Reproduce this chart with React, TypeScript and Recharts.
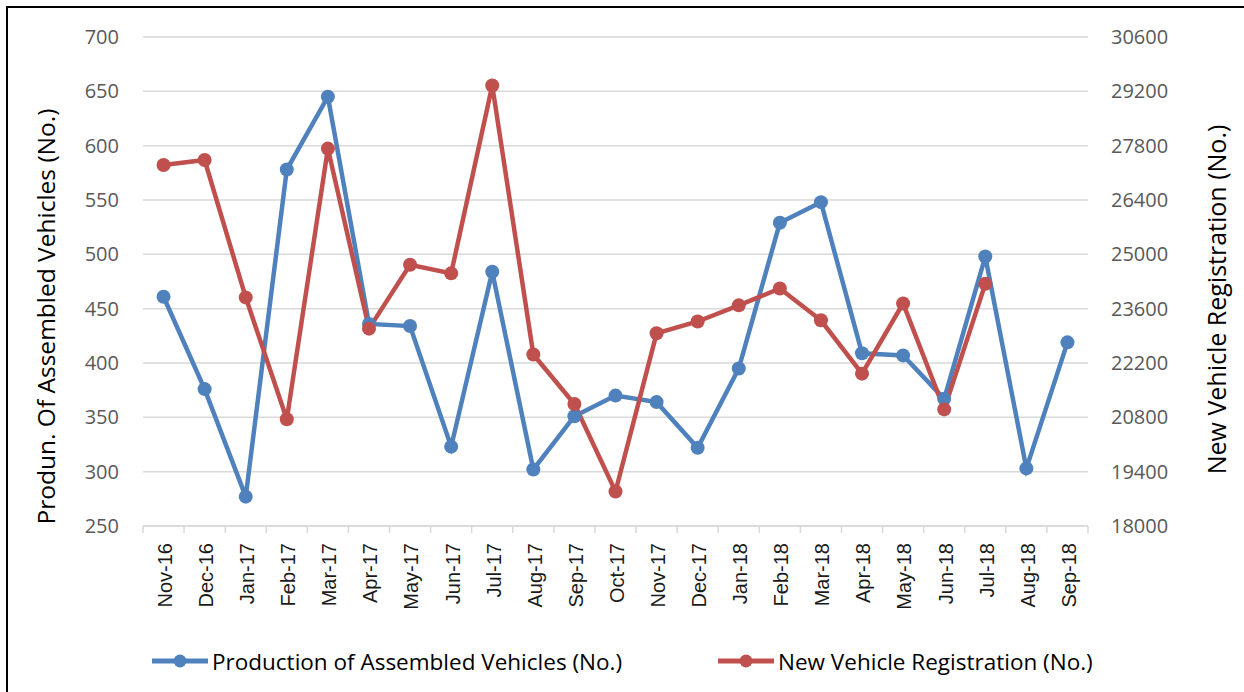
import React from 'react';
import { LineChart, Line, XAxis, YAxis, CartesianGrid, Legend } from 'recharts';

const months = [
  'Nov-16', 'Dec-16', 'Jan-17', 'Feb-17', 'Mar-17', 'Apr-17', 'May-17', 'Jun-17',
  'Jul-17', 'Aug-17', 'Sep-17', 'Oct-17', 'Nov-17', 'Dec-17', 'Jan-18', 'Feb-18',
  'Mar-18', 'Apr-18', 'May-18', 'Jun-18', 'Jul-18', 'Aug-18', 'Sep-18',
];

const production = [
  461, 376, 277, 578, 645, 436, 434, 323, 484, 302, 351, 370, 364, 322, 395, 529,
  548, 409, 407, 367, 498, 303, 419,
];

const registration: (number | null)[] = [
  27300, 27430, 23890, 20750, 27725, 23085, 24730, 24510, 29350, 22420, 21145, 18890,
  22965, 23270, 23685, 24120, 23300, 21925, 23735, 21005, 24240, null, null,
];

const leftTicks = [250, 300, 350, 400, 450, 500, 550, 600, 650, 700];
const rightTicks = [18000, 19400, 20800, 22200, 23600, 25000, 26400, 27800, 29200, 30600];

const seriesOrder = ['production', 'registration'];

const data = months.map((month, i) => ({
  month,
  production: production[i],
  registration: registration[i],
}));

const BLUE = '#4f81bd';
const RED = '#c0504d';
const CAL = "'Open Sans', 'Noto Sans', sans-serif";
const ARIAL = "'Liberation Sans', Arial, sans-serif";

const XTick = (props: any) => {
  const { x, y, payload, index, visibleTicksCount } = props;
  const off = payload.offset || 0;
  const axisY = y - 17;
  const isLast = index === visibleTicksCount - 1;
  return (
    <g>
      <line x1={x - off} x2={x - off} y1={axisY} y2={axisY + 7} stroke="#d9d9d9" strokeWidth={1.5} />
      {isLast && (
        <line x1={x + off} x2={x + off} y1={axisY} y2={axisY + 7} stroke="#d9d9d9" strokeWidth={1.5} />
      )}
      <text
        x={x}
        y={y}
        transform={`rotate(-90, ${x}, ${y})`}
        textAnchor="end"
        dy="0.42em"
        fontFamily={ARIAL}
        fontSize={20}
        fill="#1a1a1a"
      >
        {payload.value}
      </text>
    </g>
  );
};

const LeftTitle = (props: any) => {
  const vb = props.viewBox || { x: 0, y: 0, width: 0, height: 0 };
  const cx = vb.x + 45;
  const cy = vb.y + vb.height / 2 + 35;
  return (
    <text
      x={cx}
      y={cy}
      transform={`rotate(-90, ${cx}, ${cy})`}
      textAnchor="middle"
      dominantBaseline="central"
      fontFamily={CAL}
      fontSize={24.5}
      fill="#000"
    >
      Produn. Of Assembled Vehicles (No.)
    </text>
  );
};

const RightTitle = (props: any) => {
  const vb = props.viewBox || { x: 0, y: 0, width: 0, height: 0 };
  const cx = vb.x + 128;
  const cy = vb.y + vb.height / 2 + 18;
  return (
    <text
      x={cx}
      y={cy}
      transform={`rotate(-90, ${cx}, ${cy})`}
      textAnchor="middle"
      dominantBaseline="central"
      fontFamily={CAL}
      fontSize={25}
      fill="#000"
    >
      New Vehicle Registration (No.)
    </text>
  );
};

const renderLegend = (props: any) => {
  const payload = [...(props.payload || [])].sort(
    (a: any, b: any) => seriesOrder.indexOf(a.dataKey) - seriesOrder.indexOf(b.dataKey)
  );
  const widths = [566, undefined];
  return (
    <div
      style={{
        display: 'flex',
        alignItems: 'center',
        paddingLeft: 152,
        height: 30,
        fontFamily: CAL,
        fontSize: 22.5,
        color: '#000',
      }}
    >
      {payload.map((entry: any, i: number) => (
        <div key={i} style={{ display: 'flex', alignItems: 'center', width: widths[i] }}>
          <svg width={60} height={16} style={{ flex: '0 0 auto' }}>
            <line x1={0} x2={56} y1={8} y2={8} stroke={entry.color} strokeWidth={5} />
            <circle cx={28} cy={8} r={6.5} fill={entry.color} />
          </svg>
          <span style={{ whiteSpace: 'nowrap' }}>{entry.value}</span>
        </div>
      ))}
    </div>
  );
};

export default function App() {
  return (
    <div
      style={{
        position: 'absolute',
        left: 0,
        top: 0,
        width: 1244,
        height: 692,
        overflow: 'hidden',
        background: '#fff',
      }}
    >
      <div
        style={{
          position: 'absolute',
          left: 6,
          top: 6,
          width: 1400,
          height: 900,
          borderTop: '2px solid #000',
          borderLeft: '2px solid #000',
        }}
      />
      <div style={{ position: 'absolute', left: 0, top: 0 }}>
        <LineChart
          width={1244}
          height={692}
          data={data}
          margin={{ top: 37, right: 0, bottom: 0, left: 0 }}
        >
          <CartesianGrid
            yAxisId="left"
            vertical={false}
            stroke="#d9d9d9"
            strokeWidth={1.5}
          />
          <XAxis
            dataKey="month"
            scale="band"
            height={166}
            interval={0}
            tickLine={false}
            tickSize={6}
            tickMargin={11}
            axisLine={{ stroke: '#d9d9d9', strokeWidth: 1.5 }}
            tick={(p: any) => <XTick {...p} />}
          />
          <YAxis
            yAxisId="left"
            width={143}
            domain={[250, 700]}
            ticks={leftTicks}
            interval={0}
            axisLine={false}
            tickLine={false}
            tickSize={6}
            tickMargin={18}
            tick={{ fontFamily: CAL, fontSize: 20, fill: '#595959' }}
            label={{ content: (p: any) => <LeftTitle {...p} /> }}
          />
          <YAxis
            yAxisId="right"
            orientation="right"
            width={156}
            domain={[18000, 30600]}
            ticks={rightTicks}
            interval={0}
            axisLine={false}
            tickLine={false}
            tickSize={6}
            tickMargin={17}
            tick={{ fontFamily: CAL, fontSize: 20, fill: '#595959' }}
            label={{ content: (p: any) => <RightTitle {...p} /> }}
          />
          <Legend
            layout="horizontal"
            verticalAlign="middle"
            align="center"
            wrapperStyle={{ top: 646, left: 0, width: 1244 }}
            content={renderLegend}
          />
          <Line
            yAxisId="left"
            type="linear"
            dataKey="production"
            name="Production of Assembled Vehicles (No.)"
            stroke={BLUE}
            strokeWidth={4.5}
            dot={{ r: 7, fill: BLUE, stroke: 'none' }}
            activeDot={false}
            isAnimationActive={false}
          />
          <Line
            yAxisId="right"
            type="linear"
            dataKey="registration"
            name="New Vehicle Registration (No.)"
            stroke={RED}
            strokeWidth={4.5}
            dot={{ r: 7, fill: RED, stroke: 'none' }}
            activeDot={false}
            isAnimationActive={false}
          />
        </LineChart>
      </div>
    </div>
  );
}
